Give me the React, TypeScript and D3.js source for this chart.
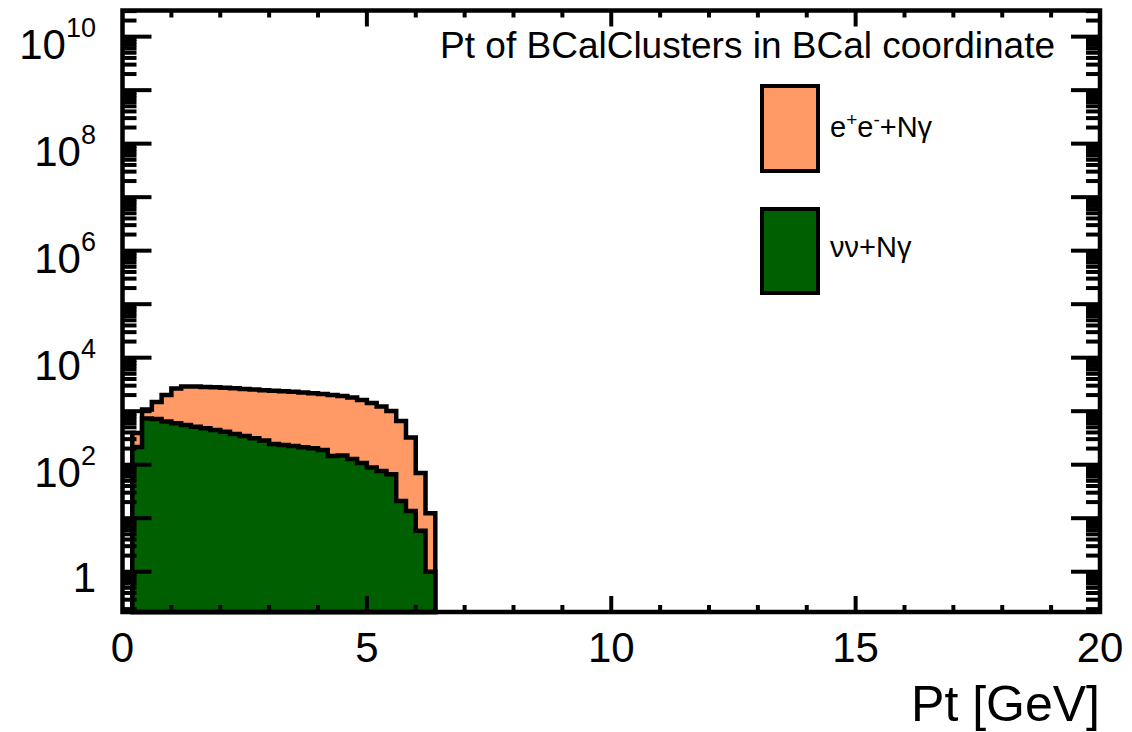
import { useEffect, useRef } from "react";
import * as d3 from "d3";

// low edges of the filled bins (0.2 GeV wide), Pt in GeV
const binLowEdges = [
  0.2, 0.4, 0.6, 0.8, 1.0, 1.2, 1.4, 1.6, 1.8, 2.0, 2.2, 2.4, 2.6, 2.8, 3.0, 3.2,
  3.4, 3.6, 3.8, 4.0, 4.2, 4.4, 4.6, 4.8, 5.0, 5.2, 5.4, 5.6, 5.8, 6.0, 6.2,
];
const BIN_WIDTH = 0.2;

// e+e- + N gamma (orange)
const eeCounts = [
  391, 1076, 1486, 2009, 2656, 2895, 2895, 2834, 2797, 2750, 2680, 2600, 2545,
  2459, 2407, 2365, 2305, 2238, 2170, 2096, 2009, 1924, 1803, 1619, 1423, 1224,
  1009, 656, 322, 70, 12.4,
];

// nu nu + N gamma (green)
const nnCounts = [
  214, 731, 715, 642, 594, 552, 513, 479, 445, 414, 375, 344, 311, 283, 244, 233,
  224, 212, 203, 188, 146, 149, 128, 108, 89, 76, 66, 21, 13.6, 5.8, 1,
];

const xTickValues = [0, 5, 10, 15, 20];
const yLabelExponents = [0, 2, 4, 6, 8, 10];

const FONT = "'Liberation Sans', Arial, Helvetica, sans-serif";
const ORANGE = "#ff9966";
const GREEN = "#005f00";

export default function App() {
  const svgRef = useRef<SVGSVGElement>(null);

  useEffect(() => {
    if (!svgRef.current) return;
    const width = 1132;
    const height = 732;

    const svg = d3.select(svgRef.current);
    svg.selectAll("*").remove();
    svg.attr("width", width).attr("height", height);

    const left = 122.5;
    const right = 1100;
    const top = 10.5;
    const bottom = 612;

    const x = d3.scaleLinear().domain([0, 20]).range([left, right]);
    const yMin = 0.1766;
    const yMax = 3.08e10;
    const y = d3.scaleLog().domain([yMin, yMax]).range([bottom, top]);

    const lw = 4.5;

    // histogram outline points
    const histPoints = (counts: number[]) => {
      const pts: [number, number][] = [];
      pts.push([binLowEdges[0], yMin]);
      counts.forEach((c, i) => pts.push([binLowEdges[i], c]));
      const last = binLowEdges.length - 1;
      pts.push([binLowEdges[last] + BIN_WIDTH, counts[last]]);
      pts.push([binLowEdges[last] + BIN_WIDTH, yMin]);
      return pts;
    };

    const stepLine = d3
      .line<[number, number]>()
      .x((d) => x(d[0]))
      .y((d) => y(d[1]))
      .curve(d3.curveStepAfter);

    [
      { counts: eeCounts, color: ORANGE },
      { counts: nnCounts, color: GREEN },
    ].forEach((h) => {
      svg
        .append("path")
        .datum(histPoints(h.counts))
        .attr("d", (d) => stepLine(d) + "Z")
        .attr("fill", h.color)
        .attr("stroke", "#000")
        .attr("stroke-width", lw)
        .attr("stroke-linejoin", "miter");
    });

    // y ticks (log): major at decades, minor at 2..9
    const tickW = 4;
    for (let e = -1; e <= 10; e++) {
      for (let m = 1; m <= 9; m++) {
        const v = m * Math.pow(10, e);
        if (v < yMin || v > yMax) continue;
        const len = m === 1 ? 29 : 14;
        const yy = y(v);
        svg
          .append("line")
          .attr("x1", left)
          .attr("x2", left + len)
          .attr("y1", yy)
          .attr("y2", yy)
          .attr("stroke", "#000")
          .attr("stroke-width", tickW);
        svg
          .append("line")
          .attr("x1", right)
          .attr("x2", right - len)
          .attr("y1", yy)
          .attr("y2", yy)
          .attr("stroke", "#000")
          .attr("stroke-width", tickW);
      }
    }

    // x ticks: major every 5, minor every 1
    for (let i = 1; i < 20; i++) {
      const len = i % 5 === 0 ? 16 : 7;
      const xx = x(i);
      svg
        .append("line")
        .attr("x1", xx)
        .attr("x2", xx)
        .attr("y1", bottom)
        .attr("y2", bottom - len)
        .attr("stroke", "#000")
        .attr("stroke-width", tickW);
      svg
        .append("line")
        .attr("x1", xx)
        .attr("x2", xx)
        .attr("y1", top)
        .attr("y2", top + len)
        .attr("stroke", "#000")
        .attr("stroke-width", tickW);
    }

    // frame
    svg
      .append("rect")
      .attr("x", left)
      .attr("y", top)
      .attr("width", right - left)
      .attr("height", bottom - top)
      .attr("fill", "none")
      .attr("stroke", "#000")
      .attr("stroke-width", lw);

    // x tick labels
    xTickValues.forEach((v) => {
      svg
        .append("text")
        .attr("x", x(v))
        .attr("y", 662)
        .attr("text-anchor", "middle")
        .attr("font-family", FONT)
        .attr("font-size", 42)
        .text(v);
    });

    // y tick labels
    yLabelExponents.forEach((e) => {
      const t = svg
        .append("text")
        .attr("x", 96)
        .attr("text-anchor", "end")
        .attr("font-family", FONT)
        .attr("font-size", 42);
      if (e === 0) {
        t.attr("y", y(1) + 20).text("1");
      } else {
        t.attr("y", y(Math.pow(10, e)) + 22);
        t.append("tspan").text("10");
        t.append("tspan")
          .attr("dy", -22)
          .attr("font-size", 27)
          .text(String(e));
      }
    });

    // axis title
    svg
      .append("text")
      .attr("x", 1100)
      .attr("y", 721)
      .attr("text-anchor", "end")
      .attr("font-family", FONT)
      .attr("font-size", 50)
      .text("Pt [GeV]");

    // histogram title
    svg
      .append("text")
      .attr("x", 1055)
      .attr("y", 58)
      .attr("text-anchor", "end")
      .attr("font-family", FONT)
      .attr("font-size", 37)
      .text("Pt of BCalClusters in BCal coordinate");

    // legend
    const boxes = [
      { color: ORANGE, y0: 86, y1: 171 },
      { color: GREEN, y0: 209, y1: 293 },
    ];
    boxes.forEach((b) => {
      svg
        .append("rect")
        .attr("x", 762)
        .attr("y", b.y0)
        .attr("width", 56)
        .attr("height", b.y1 - b.y0)
        .attr("fill", b.color)
        .attr("stroke", "#000")
        .attr("stroke-width", 4);
    });

    const l1 = svg
      .append("text")
      .attr("x", 830)
      .attr("y", 137)
      .attr("font-family", FONT)
      .attr("font-size", 29);
    l1.append("tspan").text("e");
    l1.append("tspan").attr("dy", -11).attr("font-size", 19).text("+");
    l1.append("tspan").attr("dy", 11).text("e");
    l1.append("tspan").attr("dy", -11).attr("font-size", 19).text("-");
    l1.append("tspan").attr("dy", 11).text("+Nγ");

    svg
      .append("text")
      .attr("x", 830)
      .attr("y", 257)
      .attr("font-family", FONT)
      .attr("font-size", 29)
      .text("νν+Nγ");
  }, []);

  return (
    <div style={{ position: "fixed", left: 0, top: 0, background: "#fff" }}>
      <svg ref={svgRef} style={{ display: "block" }} />
    </div>
  );
}
